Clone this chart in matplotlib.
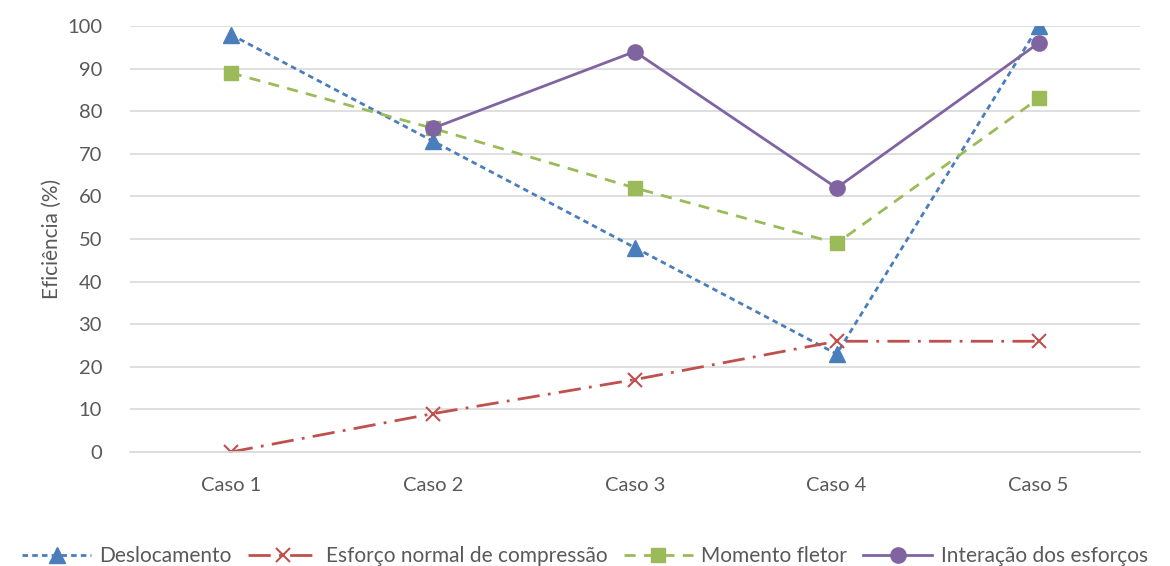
import numpy as np
import matplotlib
matplotlib.use("Agg")
import matplotlib.pyplot as plt

categories = ["Caso 1", "Caso 2", "Caso 3", "Caso 4", "Caso 5"]
deslocamento = [98, 73, 48, 23, 100]
esforco = [0, 9, 17, 26, 26]
momento = [89, 76, 62, 49, 83]
interacao = [np.nan, 76, 94, 62, 96]

plt.rcParams['font.family'] = ['Lato', 'DejaVu Sans']
txt = '#595959'

fig = plt.figure(figsize=(11.7, 5.66), dpi=100)
ax = fig.add_axes([0.111, 0.2014, 0.863, 0.7526])
x = np.arange(len(categories))

ax.plot(x, deslocamento, color='#4A7EBB', lw=2, linestyle=(0, (2, 1.5)), marker='^', ms=11, label='Deslocamento')
ax.plot(x, esforco, color='#C0504D', lw=2, linestyle=(0, (8, 3, 1, 3)), marker='x', ms=10, mew=1.5, label='Esforço normal de compressão')
ax.plot(x, momento, color='#9BBB59', lw=2, linestyle=(0, (4, 3)), marker='s', ms=10, label='Momento fletor')
ax.plot(x, interacao, color='#8064A2', lw=2, linestyle='-', marker='o', ms=11, label='Interação dos esforços')

ax.set_xlim(-0.5, 4.5)
ax.set_ylim(0, 100)
ax.set_yticks(range(0, 101, 10))
ax.set_xticks(x)
ax.set_xticklabels(categories)
ax.grid(axis='y', color='#D9D9D9', lw=1.2)
ax.set_axisbelow(True)
for s in ['top', 'right', 'left']:
    ax.spines[s].set_visible(False)
ax.spines['bottom'].set_color('#D9D9D9')
ax.spines['bottom'].set_linewidth(1.2)
ax.tick_params(axis='both', length=0, labelsize=14.5, colors=txt)
ax.tick_params(axis='x', pad=18)
ax.tick_params(axis='y', pad=20)
ax.set_ylabel('Eficiência (%)', fontsize=15, color=txt, labelpad=4)

leg = fig.legend(loc='lower center', bbox_to_anchor=(0.5, -0.033), ncol=4, frameon=False,
                 fontsize=15, handlelength=3.3, columnspacing=0.8, handletextpad=0.4)
for t in leg.get_texts():
    t.set_color(txt)

fig.savefig('out.png', dpi=100)
